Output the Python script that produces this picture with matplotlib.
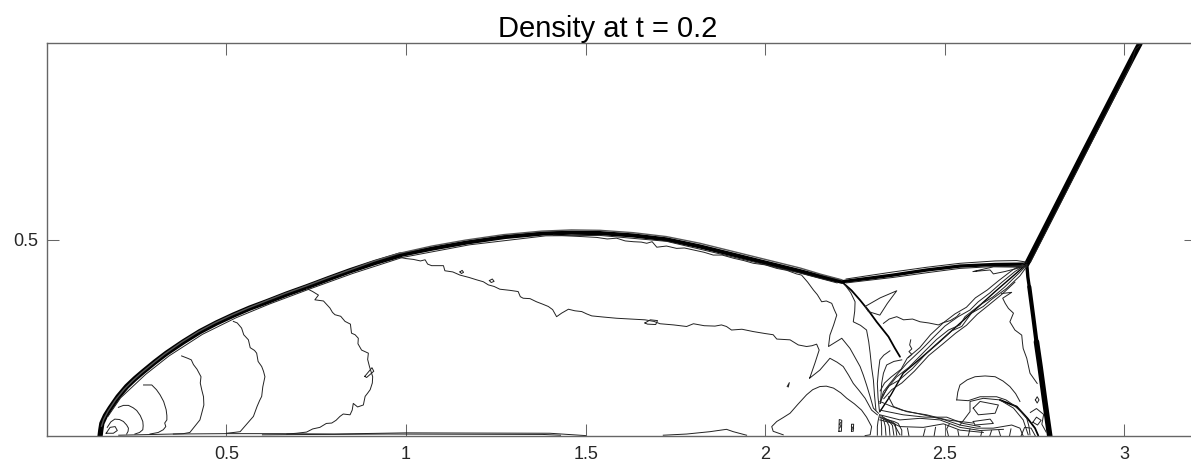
# -*- coding: UTF-8 -*-
# density contours, double mach reflection
import matplotlib
matplotlib.use('agg')
import matplotlib.pyplot as plt

plt.rcParams['font.family'] = ['Liberation Sans', 'DejaVu Sans']

title = 'Density at t = 0.2'
x_ticks = [0.5, 1, 1.5, 2, 2.5, 3]
x_labels = ['0.5', '1', '1.5', '2', '2.5', '3']
y_ticks = [0.5]
y_labels = ['0.5']

# shocks (drawn heavy)
bow_low = [(0.148, 0.0), (0.150, 0.015), (0.153, 0.032), (0.163, 0.052), (0.176, 0.071), (0.198, 0.100), (0.222, 0.126),
           (0.245, 0.146), (0.268, 0.164), (0.300, 0.188), (0.333, 0.211), (0.380, 0.240), (0.426, 0.266), (0.472, 0.288),
           (0.519, 0.308), (0.565, 0.326), (0.612, 0.342), (0.668, 0.362), (0.723, 0.380), (0.784, 0.401), (0.844, 0.421),
           (0.913, 0.442), (0.983, 0.461)]
bow_high = [(0.983, 0.461), (1.076, 0.478), (1.169, 0.493), (1.275, 0.507), (1.382, 0.516), (1.460, 0.518),
            (1.540, 0.517), (1.632, 0.511), (1.725, 0.501), (1.818, 0.483), (1.911, 0.462), (2.004, 0.441), (2.097, 0.420),
            (2.155, 0.406), (2.213, 0.393)]
bow_outer = [(0.152, 0.025), (0.158, 0.042), (0.170, 0.063), (0.191, 0.092), (0.215, 0.119), (0.240, 0.142), (0.262, 0.160),
             (0.295, 0.185), (0.328, 0.209), (0.375, 0.239), (0.420, 0.265), (0.467, 0.288), (0.514, 0.308), (0.560, 0.326),
             (0.607, 0.343), (0.663, 0.363), (0.718, 0.381), (0.779, 0.402), (0.840, 0.422), (0.909, 0.445), (0.979, 0.465),
             (1.072, 0.484), (1.165, 0.499), (1.271, 0.513), (1.378, 0.522), (1.460, 0.525), (1.540, 0.524), (1.632, 0.518),
             (1.725, 0.508), (1.818, 0.491), (1.911, 0.470), (2.004, 0.449), (2.097, 0.428), (2.155, 0.412), (2.213, 0.398)]
bow_inner = [(0.170, 0.050), (0.205, 0.097), (0.275, 0.157), (0.340, 0.204), (0.433, 0.259), (0.526, 0.301), (0.619, 0.336),
             (0.730, 0.374), (0.851, 0.414), (0.990, 0.455), (1.176, 0.487), (1.389, 0.510), (1.540, 0.511), (1.725, 0.496),
             (1.911, 0.456), (2.097, 0.415), (2.200, 0.390)]
reflected_top = [(2.213, 0.393), (2.290, 0.402), (2.356, 0.410), (2.450, 0.423), (2.542, 0.433), (2.640, 0.437), (2.728, 0.438)]
reflected_top2 = [(2.225, 0.400), (2.290, 0.409), (2.356, 0.418), (2.450, 0.430), (2.542, 0.440), (2.640, 0.446), (2.700, 0.447), (2.728, 0.443)]
reflected_top3 = [(2.225, 0.390), (2.356, 0.404), (2.450, 0.416), (2.542, 0.427), (2.640, 0.432), (2.715, 0.432)]
oblique = [(2.728, 0.438), (2.885, 0.720), (3.020, 0.960), (3.043, 1.0)]
oblique2 = [(2.738, 0.442), (2.890, 0.715), (3.020, 0.950), (3.030, 0.985), (3.043, 0.995)]
mach_stem_top = [(2.728, 0.438), (2.731, 0.405), (2.735, 0.380)]
mach_stem_mid = [(2.735, 0.380), (2.746, 0.304), (2.755, 0.240)]
mach_stem = [(2.755, 0.240), (2.765, 0.177), (2.778, 0.090), (2.792, 0.0)]
slip_curve = [(2.213, 0.393), (2.240, 0.371), (2.264, 0.346), (2.287, 0.320), (2.310, 0.291), (2.343, 0.253), (2.360, 0.225), (2.375, 0.202)]
slip_jet = [(2.319, 0.062), (2.350, 0.105), (2.384, 0.160), (2.449, 0.211), (2.542, 0.287), (2.640, 0.368), (2.728, 0.438)]
slip_foot = [(2.653, 0.092), (2.700, 0.075), (2.730, 0.045), (2.751, 0.020), (2.760, 0.001)]

# thin contours behind the bow shock
loop1 = [(0.165, 0.007), (0.176, 0.022), (0.190, 0.024), (0.196, 0.014), (0.185, 0.007), (0.165, 0.007)]
c2 = [(0.168, 0.022), (0.178, 0.036), (0.189, 0.043), (0.202, 0.042), (0.213, 0.037), (0.222, 0.028), (0.227, 0.020), (0.226, 0.012), (0.222, 0.005)]
c3 = [(0.199, 0.073), (0.213, 0.078), (0.227, 0.078), (0.240, 0.072), (0.250, 0.065), (0.260, 0.052), (0.267, 0.037), (0.268, 0.026), (0.267, 0.016), (0.258, 0.009), (0.245, 0.005)]
c4 = [(0.269, 0.130), (0.292, 0.130), (0.305, 0.118), (0.315, 0.105), (0.325, 0.088), (0.332, 0.067), (0.334, 0.052), (0.334, 0.041), (0.328, 0.033), (0.331, 0.024), (0.324, 0.016), (0.310, 0.009), (0.287, 0.005)]
c5 = [(0.375, 0.204), (0.392, 0.198), (0.402, 0.194), (0.408, 0.182), (0.418, 0.170), (0.429, 0.151), (0.427, 0.135), (0.431, 0.118), (0.436, 0.100),
      (0.437, 0.079), (0.431, 0.058), (0.426, 0.041), (0.412, 0.025), (0.398, 0.009), (0.380, 0.006), (0.352, 0.005)]
c6 = [(0.519, 0.292), (0.530, 0.288), (0.542, 0.275), (0.548, 0.258), (0.556, 0.250), (0.561, 0.245), (0.566, 0.225), (0.578, 0.218), (0.584, 0.211), (0.588, 0.190),
      (0.598, 0.177), (0.603, 0.165), (0.607, 0.151), (0.601, 0.125), (0.598, 0.101), (0.592, 0.090), (0.585, 0.075), (0.575, 0.050), (0.556, 0.030), (0.538, 0.011), (0.520, 0.009), (0.500, 0.007)]
c7 = [(0.723, 0.376), (0.740, 0.368), (0.756, 0.359), (0.746, 0.347), (0.770, 0.344), (0.788, 0.326), (0.795, 0.315), (0.802, 0.309), (0.818, 0.305), (0.830, 0.292), (0.845, 0.285), (0.848, 0.262),
      (0.858, 0.258), (0.867, 0.249), (0.866, 0.235), (0.876, 0.219), (0.895, 0.211), (0.893, 0.195), (0.898, 0.177), (0.907, 0.151), (0.906, 0.135), (0.900, 0.118), (0.892, 0.108), (0.886, 0.101),
      (0.881, 0.079), (0.865, 0.074), (0.853, 0.083), (0.850, 0.066), (0.844, 0.054), (0.825, 0.056), (0.816, 0.050), (0.805, 0.040), (0.793, 0.033), (0.778, 0.032), (0.760, 0.022), (0.740, 0.018), (0.723, 0.010), (0.695, 0.007), (0.668, 0.005)]
c7_blob = [(0.885, 0.152), (0.905, 0.174), (0.910, 0.165), (0.890, 0.149), (0.885, 0.152)]
wall = [(0.200, 0.002), (0.350, 0.005), (0.500, 0.006), (0.650, 0.006), (0.800, 0.005), (1.000, 0.008), (1.400, 0.007), (1.500, 0.001)]
wall2 = [(0.600, 0.003), (0.750, 0.004), (0.950, 0.005), (1.380, 0.004), (1.430, 0.002)]
wall_bump = [(1.716, 0.002), (1.781, 0.005), (1.846, 0.011), (1.892, 0.017), (1.911, 0.011), (1.948, 0.002)]

mid_line = [(0.983, 0.455), (1.000, 0.452), (1.020, 0.450), (1.040, 0.446), (1.053, 0.449), (1.060, 0.438), (1.071, 0.434), (1.104, 0.434), (1.108, 0.421),
            (1.130, 0.418), (1.150, 0.410), (1.175, 0.404), (1.196, 0.398), (1.215, 0.393), (1.229, 0.385), (1.245, 0.381), (1.261, 0.374), (1.290, 0.371), (1.312, 0.368), (1.318, 0.355), (1.326, 0.351), (1.345, 0.350), (1.363, 0.342),
            (1.380, 0.336), (1.396, 0.330), (1.408, 0.322), (1.419, 0.304), (1.433, 0.313), (1.452, 0.323), (1.470, 0.319), (1.489, 0.317), (1.503, 0.311), (1.517, 0.306), (1.550, 0.303), (1.586, 0.300),
            (1.625, 0.298), (1.665, 0.296), (1.690, 0.292), (1.707, 0.286), (1.745, 0.283), (1.781, 0.279), (1.800, 0.286), (1.830, 0.281), (1.860, 0.280), (1.878, 0.283), (1.892, 0.279), (1.906, 0.270), (1.935, 0.272),
            (1.967, 0.266), (2.000, 0.261), (2.022, 0.258), (2.032, 0.247), (2.069, 0.245), (2.092, 0.232), (2.115, 0.228), (2.130, 0.230), (2.143, 0.234),
            (2.150, 0.219), (2.138, 0.185), (2.125, 0.151), (2.123, 0.147), (2.152, 0.168), (2.180, 0.198), (2.200, 0.188), (2.217, 0.177), (2.232, 0.155), (2.245, 0.134),
            (2.262, 0.115), (2.278, 0.096), (2.296, 0.066), (2.312, 0.054)]
mid_blob1 = [(1.150, 0.418), (1.156, 0.422), (1.160, 0.417), (1.154, 0.414), (1.150, 0.418)]
mid_blob2 = [(1.232, 0.396), (1.240, 0.400), (1.245, 0.394), (1.237, 0.391), (1.232, 0.396)]
mid_blob3 = [(1.665, 0.288), (1.680, 0.296), (1.700, 0.294), (1.695, 0.284), (1.672, 0.285), (1.665, 0.288)]
under_shock = [(1.410, 0.512), (1.470, 0.509), (1.530, 0.506), (1.560, 0.502), (1.586, 0.504), (1.610, 0.497), (1.633, 0.495), (1.655, 0.494), (1.670, 0.491), (1.685, 0.495), (1.698, 0.481), (1.725, 0.484),
               (1.753, 0.478), (1.775, 0.479), (1.800, 0.474), (1.830, 0.468), (1.855, 0.461), (1.880, 0.461), (1.911, 0.453), (1.940, 0.447), (1.967, 0.440), (2.000, 0.436), (2.032, 0.427), (2.060, 0.422), (2.087, 0.413),
               (2.101, 0.410), (2.118, 0.392), (2.134, 0.372), (2.145, 0.360), (2.157, 0.342), (2.170, 0.344), (2.185, 0.338), (2.192, 0.322), (2.199, 0.308), (2.190, 0.282), (2.180, 0.257), (2.176, 0.228),
               (2.213, 0.249), (2.236, 0.223), (2.250, 0.200), (2.264, 0.177), (2.273, 0.155), (2.282, 0.130), (2.292, 0.100), (2.301, 0.071), (2.315, 0.058)]
hump = [(2.278, 0.001), (2.292, 0.003), (2.296, 0.024), (2.282, 0.048), (2.268, 0.066), (2.248, 0.082), (2.227, 0.096), (2.210, 0.110), (2.190, 0.122), (2.170, 0.127), (2.152, 0.126),
        (2.132, 0.118), (2.115, 0.105), (2.090, 0.080), (2.069, 0.058), (2.050, 0.047), (2.032, 0.037), (2.018, 0.024), (2.022, 0.012), (2.050, 0.003)]
fan1 = [(2.222, 0.385), (2.238, 0.365), (2.250, 0.342), (2.249, 0.318), (2.245, 0.291), (2.265, 0.282), (2.282, 0.270), (2.288, 0.240), (2.292, 0.211), (2.296, 0.175), (2.301, 0.143), (2.304, 0.105), (2.308, 0.066)]
fan2 = [(2.347, 0.217), (2.330, 0.206), (2.319, 0.194), (2.315, 0.165), (2.312, 0.134), (2.314, 0.098), (2.318, 0.062)]
fan3 = [(2.380, 0.194), (2.358, 0.190), (2.338, 0.181), (2.329, 0.160), (2.324, 0.134), (2.321, 0.083)]
spike = [(2.278, 0.330), (2.320, 0.352), (2.366, 0.370), (2.340, 0.338), (2.319, 0.308), (2.287, 0.317), (2.278, 0.330)]
right_run = [(2.329, 0.287), (2.345, 0.298), (2.366, 0.304), (2.385, 0.296), (2.410, 0.298), (2.431, 0.291), (2.455, 0.288), (2.482, 0.283), (2.496, 0.289), (2.515, 0.294), (2.533, 0.304), (2.542, 0.313)]

foot1 = [(2.318, 0.054), (2.314, 0.038), (2.312, 0.024), (2.312, 0.002)]
foot2 = [(2.322, 0.052), (2.323, 0.036), (2.324, 0.020), (2.324, 0.002)]
foot3 = [(2.326, 0.050), (2.331, 0.036), (2.334, 0.025), (2.336, 0.002)]
foot4 = [(2.329, 0.048), (2.339, 0.036), (2.345, 0.025), (2.347, 0.002)]
foot5 = [(2.332, 0.046), (2.346, 0.036), (2.354, 0.027), (2.358, 0.002)]
foot6 = [(2.335, 0.044), (2.352, 0.037), (2.362, 0.030), (2.366, 0.002)]
foot7 = [(2.338, 0.042), (2.358, 0.037), (2.370, 0.032), (2.380, 0.015), (2.380, 0.002)]

# jet bundle
jet_a = [(2.319, 0.083), (2.329, 0.113), (2.347, 0.134), (2.370, 0.160), (2.394, 0.185), (2.438, 0.223), (2.468, 0.251),
         (2.500, 0.280), (2.537, 0.304), (2.570, 0.321), (2.593, 0.342), (2.626, 0.365), (2.658, 0.391), (2.695, 0.419), (2.728, 0.438)]
jet_b = [(2.322, 0.090), (2.338, 0.120), (2.365, 0.150), (2.400, 0.175), (2.445, 0.217), (2.477, 0.246), (2.510, 0.270),
         (2.542, 0.283), (2.556, 0.304), (2.598, 0.334), (2.635, 0.355), (2.667, 0.380), (2.704, 0.413), (2.729, 0.436)]
jet_c = [(2.325, 0.100), (2.345, 0.128), (2.372, 0.142), (2.410, 0.172), (2.449, 0.211), (2.486, 0.240), (2.519, 0.268),
         (2.547, 0.279), (2.574, 0.313), (2.607, 0.330), (2.630, 0.348), (2.672, 0.376), (2.709, 0.408), (2.729, 0.433)]
jet_d = [(2.320, 0.115), (2.332, 0.135), (2.350, 0.150), (2.378, 0.170), (2.395, 0.198), (2.430, 0.225), (2.460, 0.258),
         (2.495, 0.288), (2.528, 0.311), (2.560, 0.328), (2.585, 0.352), (2.618, 0.372), (2.650, 0.396), (2.690, 0.424), (2.722, 0.440)]
jet_e = [(2.330, 0.095), (2.352, 0.118), (2.380, 0.135), (2.415, 0.165), (2.455, 0.205), (2.495, 0.235), (2.530, 0.262),
         (2.560, 0.282), (2.590, 0.310), (2.620, 0.332), (2.660, 0.362), (2.695, 0.392)]

# vortex region near the mach stem foot
run0 = [(2.343, 0.100), (2.357, 0.075), (2.394, 0.062), (2.449, 0.054), (2.505, 0.041), (2.579, 0.033)]
run1 = [(2.319, 0.088), (2.350, 0.076), (2.380, 0.066), (2.440, 0.054), (2.500, 0.041), (2.542, 0.028), (2.589, 0.020), (2.635, 0.020), (2.686, 0.028), (2.709, 0.020), (2.718, 0.0)]
run2 = [(2.319, 0.054), (2.375, 0.041), (2.431, 0.045), (2.486, 0.041), (2.542, 0.022), (2.598, 0.014), (2.663, 0.017)]
run3 = [(2.319, 0.048), (2.375, 0.024), (2.440, 0.022), (2.496, 0.031), (2.542, 0.015), (2.607, 0.009)]
run4 = [(2.319, 0.041), (2.357, 0.032), (2.375, 0.003)]
run5 = [(2.319, 0.066), (2.384, 0.054), (2.445, 0.048), (2.505, 0.048), (2.551, 0.032), (2.598, 0.024)]
arch = [(2.533, 0.092), (2.536, 0.112), (2.542, 0.130), (2.562, 0.143), (2.584, 0.151), (2.612, 0.153), (2.640, 0.151), (2.662, 0.140), (2.681, 0.126), (2.697, 0.108), (2.709, 0.088)]
arch_low = [(2.533, 0.092), (2.565, 0.090), (2.598, 0.100), (2.644, 0.100), (2.670, 0.092), (2.691, 0.079), (2.712, 0.062), (2.728, 0.045), (2.734, 0.025), (2.737, 0.003)]
band = [(2.542, 0.028), (2.570, 0.062), (2.570, 0.088), (2.607, 0.096), (2.653, 0.092), (2.691, 0.071), (2.718, 0.041), (2.732, 0.003)]
inner_loop = [(2.579, 0.071), (2.598, 0.088), (2.649, 0.079), (2.640, 0.058), (2.593, 0.054), (2.579, 0.071)]
small_loop = [(2.579, 0.037), (2.626, 0.043), (2.635, 0.032), (2.584, 0.028), (2.579, 0.037)]
right_side = [(2.658, 0.363), (2.686, 0.366), (2.661, 0.351), (2.668, 0.338), (2.677, 0.325), (2.691, 0.313), (2.681, 0.291), (2.695, 0.270),
              (2.714, 0.257), (2.716, 0.238), (2.718, 0.223), (2.728, 0.198), (2.737, 0.160), (2.757, 0.134)]
top_loop = [(2.579, 0.419), (2.626, 0.423), (2.635, 0.413), (2.667, 0.419), (2.714, 0.430), (2.635, 0.431), (2.579, 0.419)]
stem_circle = [(2.752, 0.092), (2.757, 0.100), (2.762, 0.092), (2.757, 0.084), (2.752, 0.092)]
corner1 = [(2.712, 0.0), (2.722, 0.022), (2.740, 0.020), (2.752, 0.0)]
corner2 = [(2.738, 0.060), (2.755, 0.070), (2.775, 0.055), (2.770, 0.030), (2.782, 0.010)]
corner3 = [(2.745, 0.035), (2.755, 0.048), (2.768, 0.040), (2.758, 0.028), (2.745, 0.035)]
stub1 = [(2.510, 0.000), (2.505, 0.018), (2.512, 0.030)]
stub2 = [(2.539, 0.000), (2.536, 0.015)]
stub3 = [(2.565, 0.000), (2.570, 0.018)]
stub4 = [(2.600, 0.000), (2.603, 0.012)]
stub5 = [(2.625, 0.000), (2.630, 0.014)]
stub6 = [(2.655, 0.000), (2.650, 0.015)]
stub7 = [(2.680, 0.000), (2.684, 0.018)]
stub8 = [(2.400, 0.000), (2.396, 0.020)]
stub9 = [(2.440, 0.000), (2.445, 0.018)]
stub10 = [(2.470, 0.000), (2.474, 0.022)]
blob1 = [(2.205, 0.012), (2.212, 0.012), (2.213, 0.040), (2.206, 0.042), (2.205, 0.012)]
blob1b = [(2.206, 0.020), (2.212, 0.026), (2.206, 0.030), (2.212, 0.036)]
blob2 = [(2.240, 0.012), (2.245, 0.012), (2.246, 0.030), (2.240, 0.030), (2.240, 0.012)]
blob2b = [(2.240, 0.016), (2.246, 0.020), (2.240, 0.024)]
blob3 = [(2.398, 0.200), (2.408, 0.208), (2.400, 0.215), (2.408, 0.222), (2.402, 0.232), (2.405, 0.245)]
blob4 = [(2.061, 0.126), (2.067, 0.136), (2.064, 0.125)]

thick = [(bow_low, 3.8), (bow_high, 3.0), (reflected_top, 2.4), (oblique, 4.0), (mach_stem_top, 2.4), (mach_stem_mid, 3.0),
         (mach_stem, 4.0), (slip_curve, 1.3), (slip_foot, 1.3), (slip_jet, 1.0)]
thin = [bow_inner, reflected_top2, reflected_top3, oblique2, loop1, c2, c3, c4, c5, c6, c7, c7_blob, wall, wall2, wall_bump,
        mid_line, mid_blob1, mid_blob2, mid_blob3, under_shock, hump, fan1, fan2, fan3, spike, right_run,
        foot1, foot2, foot3, foot4, foot5, foot6, foot7, jet_a, jet_b, jet_c, jet_d, jet_e,
        run0, run1, run2, run3, run4, run5, arch, arch_low, band, inner_loop, small_loop, right_side, top_loop,
        stem_circle, corner1, corner2, corner3, stub1, stub2, stub3, stub4, stub5, stub6, stub7, stub8, stub9, stub10,
        blob1, blob1b, blob2, blob2b, blob3, blob4]

fig = plt.figure(figsize=(11.91, 4.69), dpi=100)
# axes runs past the right edge of the picture, like the source crop
ax = fig.add_axes([46.9 / 1191, 33.0 / 469, 1149.4 / 1191, 392.5 / 469])

for pts, lw in thick:
    ax.plot([p[0] for p in pts], [p[1] for p in pts], color='black', lw=lw, solid_capstyle='round')
ax.plot([p[0] for p in bow_outer], [p[1] for p in bow_outer], color='#555555', lw=1.0)
for pts in thin:
    ax.plot([p[0] for p in pts], [p[1] for p in pts], color='#222222', lw=0.7)

ax.set_xlim(0, 3.2)
ax.set_ylim(0, 1)
ax.set_xticks(x_ticks)
ax.set_xticklabels(x_labels)
ax.set_yticks(y_ticks)
ax.set_yticklabels(y_labels)
ax.tick_params(direction='in', length=8.3, width=0.75, color='#666666', labelcolor='#262626',
               labelsize=13, top=True, right=True)
ax.tick_params(axis='x', pad=7.5)
ax.tick_params(axis='y', pad=6.4)
for s in ax.spines.values():
    s.set_color('#666666')
    s.set_linewidth(1.0)
ax.set_title(title, x=0.4877, fontsize=21, color='black', pad=5)

fig.savefig('out.png', dpi=100)
plt.close()
